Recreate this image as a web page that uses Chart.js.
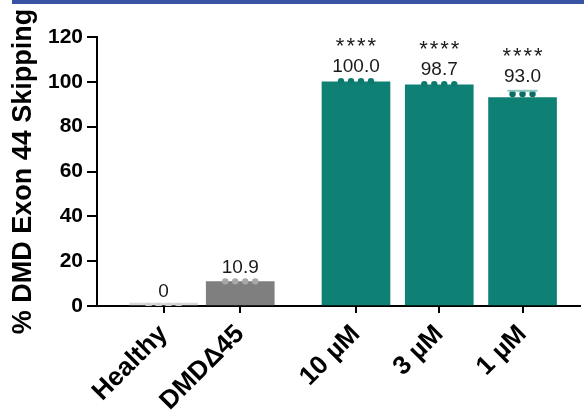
<!DOCTYPE html>
<html>
<head>
<meta charset="utf-8">
<script src="https://cdn.jsdelivr.net/npm/chart.js@4.4.1/dist/chart.umd.min.js"></script>
<style>
  html, body { margin: 0; padding: 0; background: #fff; }
  #wrap { position: relative; width: 584px; height: 411px; }
  #band { position: absolute; left: 12px; top: 0; right: 0; height: 4px; background: #3953a4; }
</style>
</head>
<body>
<div id="wrap">
  <canvas id="chart" width="584" height="411"></canvas>
  <div id="band"></div>
</div>
<script>
// groups and their positions on the x axis (gap between controls and doses)
const groups = ['Healthy', 'DMDΔ45', '10 µM', '3 µM', '1 µM'];
const groupPos = [0, 0.92, 2.31, 3.31, 4.31];

// mean % exon 44 skipping
const means = [0, 10.9, 100.0, 98.7, 93.0];
const meanLabels = ['0', '10.9', '100.0', '98.7', '93.0'];
const sdValues = [0, 0, 0, 0, 3.0];
const stars = ['', '', '****', '****', '****'];

// individual replicates
const replicates = [
  [0, 0, 0, 0],
  [11.0, 11.0, 11.0, 11.0],
  [100.3, 100.3, 100.3, 100.3],
  [99.0, 99.0, 99.0, 99.0],
  [94.6, 94.6, 94.6]
];

const yTicks = [0, 20, 40, 60, 80, 100, 120];

const barColors = ['#d9d9d9', '#7f7f7f', '#0e8074', '#0e8074', '#0e8074'];
const dotColors = ['#cfcfcf', '#a8a8a8', '#0d7a6f', '#0d7a6f', '#0b6d63'];

const FONT = 'Liberation Sans, Arial, Helvetica, sans-serif';

const dotPoints = [];
const dotPointColors = [];
replicates.forEach((reps, i) => {
  reps.forEach((v, j) => {
    dotPoints.push({ x: groupPos[i] + (j - (reps.length - 1) / 2) * 0.12, y: v });
    dotPointColors.push(dotColors[i]);
  });
});

// value labels, stars and SD caps
const annotate = {
  id: 'annotate',
  afterDatasetsDraw(chart) {
    const ctx = chart.ctx;
    const y = chart.scales.y;
    const meta = chart.getDatasetMeta(1);
    ctx.save();
    meta.data.forEach((bar, i) => {
      const x = bar.x;
      if (sdValues[i] > 0) {
        ctx.strokeStyle = '#8cc7c1';
        ctx.lineWidth = 2;
        const cy = y.getPixelForValue(means[i] + sdValues[i]);
        ctx.beginPath();
        ctx.moveTo(x - 15, cy);
        ctx.lineTo(x + 15, cy);
        ctx.stroke();
      }
      const top = Math.max(means[i], Math.max(...replicates[i]), means[i] + sdValues[i]);
      const ly = y.getPixelForValue(top) - 14;
      ctx.fillStyle = '#1a1a1a';
      ctx.textAlign = 'center';
      ctx.textBaseline = 'middle';
      ctx.font = '19px ' + FONT;
      ctx.fillText(meanLabels[i], x, ly);
      if (stars[i]) {
        ctx.font = '22px ' + FONT;
        ctx.letterSpacing = '2px';
        ctx.fillText(stars[i], x + 1, ly - 20);
        ctx.letterSpacing = '0px';
      }
    });
    ctx.restore();
  }
};

new Chart(document.getElementById('chart'), {
  data: {
    datasets: [
      {
        type: 'scatter',
        data: dotPoints,
        pointRadius: 3.2,
        pointBackgroundColor: dotPointColors,
        pointBorderWidth: 0,
        order: 2
      },
      {
        type: 'bar',
        data: means.map((m, i) => ({ x: groupPos[i], y: m })),
        backgroundColor: barColors,
        barThickness: 68,
        minBarLength: 3,
        order: 3
      }
    ]
  },
  options: {
    responsive: false,
    animation: false,
    events: [],
    layout: { padding: { top: 37, left: 7, right: 0, bottom: 0 } },
    plugins: { legend: { display: false }, tooltip: { enabled: false } },
    scales: {
      x: {
        type: 'linear',
        offset: false,
        min: -0.8,
        max: 5.0,
        afterBuildTicks: (s) => { s.ticks = groupPos.map(v => ({ value: v })); },
        afterFit: (s) => { s.height = 105; s.paddingLeft = 0; s.paddingRight = 0; },
        grid: { drawOnChartArea: false, drawTicks: true, tickLength: 7, color: '#000', lineWidth: 2, offset: false },
        border: { display: true, color: '#000', width: 2 },
        ticks: {
          autoSkip: false,
          minRotation: 45,
          maxRotation: 45,
          padding: 6,
          color: '#000',
          font: { family: FONT, size: 26, weight: 'bold' },
          callback: (v) => { const k = groupPos.indexOf(v); return k >= 0 ? groups[k] : ''; }
        }
      },
      y: {
        min: 0,
        max: 120,
        afterBuildTicks: (s) => { s.ticks = yTicks.map(v => ({ value: v })); },
        afterFit: (s) => { s.width = 90; },
        grid: { drawOnChartArea: false, drawTicks: true, tickLength: 10, color: '#000', lineWidth: 2 },
        border: { display: true, color: '#000', width: 2 },
        ticks: {
          padding: 4,
          color: '#000',
          font: { family: FONT, size: 21, weight: 'bold' }
        },
        title: {
          display: true,
          text: '% DMD Exon 44 Skipping',
          color: '#000',
          padding: { top: 0, bottom: 0 },
          font: { family: FONT, size: 27, weight: 'bold' }
        }
      }
    }
  },
  plugins: [annotate]
});
</script>
</body>
</html>
